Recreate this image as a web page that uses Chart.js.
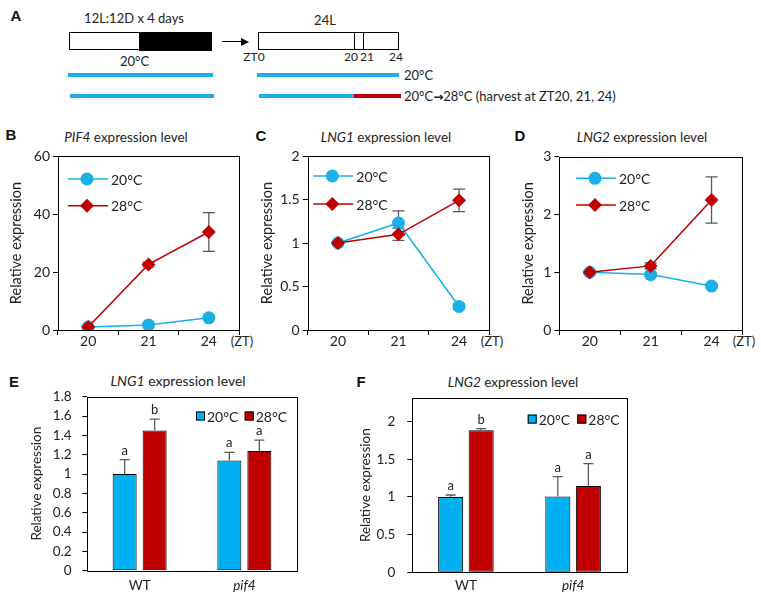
<!DOCTYPE html>
<html><head><meta charset="utf-8">
<script src="https://cdn.jsdelivr.net/npm/chart.js@4"></script>
<style>
body{margin:0;background:#fff;width:761px;height:593px;overflow:hidden;position:relative;font-family:Lato,'Open Sans',sans-serif;color:#222}
canvas{position:absolute}
.c{position:absolute;transform:translate(-50%,-50%);line-height:1;white-space:nowrap}
.l{position:absolute;transform:translateY(-50%);line-height:1;white-space:nowrap}
.pl{position:absolute;transform:translate(-50%,-50%);line-height:1;font-family:'Liberation Sans',Arial,sans-serif;font-weight:bold;font-size:15px;color:#111}
.r{position:absolute}
</style></head><body>

<!-- Panel A schematic -->
<div class="pl" style="left:16px;top:15px">A</div>
<div class="c" style="left:134px;top:18px;font-size:13px">12L:12D x 4 days</div>
<div class="r" style="left:69px;top:32px;width:141px;height:16px;border:1.3px solid #000;background:#fff"></div>
<div class="r" style="left:139px;top:32px;width:72.5px;height:18.6px;background:#000"></div>
<div class="c" style="left:134.5px;top:61px;font-size:13px">20°C</div>
<div class="r" style="left:68px;top:72.5px;width:145px;height:4px;background:#1AAFE6"></div>
<div class="r" style="left:70px;top:93.5px;width:144px;height:4px;background:#1AAFE6"></div>
<div class="r" style="left:222px;top:41px;width:20px;height:1.3px;background:#000"></div>
<div class="r" style="left:241px;top:37.5px;width:0;height:0;border-top:4px solid transparent;border-bottom:4px solid transparent;border-left:8px solid #000"></div>
<div class="c" style="left:325px;top:20px;font-size:13px">24L</div>
<div class="r" style="left:258px;top:32px;width:139px;height:16px;border:1.3px solid #000"></div>
<div class="r" style="left:353.5px;top:32px;width:1.3px;height:18px;background:#000"></div>
<div class="r" style="left:363.2px;top:32px;width:1.3px;height:18px;background:#000"></div>
<div class="c" style="left:254px;top:57px;font-size:12px">ZT0</div>
<div class="c" style="left:351px;top:57px;font-size:12px">20</div>
<div class="c" style="left:367px;top:57px;font-size:12px">21</div>
<div class="c" style="left:396px;top:57px;font-size:12px">24</div>
<div class="r" style="left:257.3px;top:72.5px;width:142px;height:4px;background:#1AAFE6"></div>
<div class="r" style="left:259px;top:93.5px;width:94.7px;height:4px;background:#1AAFE6"></div>
<div class="r" style="left:353.7px;top:93.5px;width:47px;height:4px;background:#C00000"></div>
<div class="l" style="left:404px;top:74.5px;font-size:13px">20°C</div>
<div class="l" style="left:404px;top:95.5px;font-size:13px">20°C<b style="font-family:'DejaVu Sans';font-size:12px">→</b>28°C (harvest at ZT20, 21, 24)</div>

<!-- Panel letters -->
<div class="pl" style="left:11px;top:134px">B</div>
<div class="pl" style="left:261px;top:135px">C</div>
<div class="pl" style="left:520px;top:135px">D</div>
<div class="pl" style="left:14px;top:381px">E</div>
<div class="pl" style="left:361px;top:381px">F</div>

<!-- Titles -->
<div class="c" style="left:126px;top:138px;font-size:13.5px"><i>PIF4</i> expression level</div>
<div class="c" style="left:386px;top:138px;font-size:13.5px"><i>LNG1</i> expression level</div>
<div class="c" style="left:642px;top:138px;font-size:13.5px"><i>LNG2</i> expression level</div>
<div class="c" style="left:178px;top:381px;font-size:14px"><i>LNG1</i> expression level</div>
<div class="c" style="left:513px;top:382.5px;font-size:13.5px"><i>LNG2</i> expression level</div>

<div class="c" style="left:242px;top:341px;font-size:13px">(ZT)</div>
<div class="c" style="left:492px;top:341px;font-size:13px">(ZT)</div>
<div class="c" style="left:744px;top:341px;font-size:13px">(ZT)</div>

<canvas id="cB"></canvas>
<canvas id="cC"></canvas>
<canvas id="cD"></canvas>
<canvas id="cE"></canvas>
<canvas id="cF"></canvas>

<script>
// ---------- DATA ----------
const timeCats = ['20', '21', '24'];

const pif4Ticks = [0, 20, 40, 60];
const pif4TickLabels = ['0', '20', '40', '60'];
const pif4_20C = [1.0, 1.7, 4.2];
const pif4_20C_err = [0.2, 0.3, 0.5];
const pif4_28C = [1.0, 22.6, 33.8];
const pif4_28C_err = [0.2, 0.8, 6.7];

const lng1Ticks = [0, 0.5, 1, 1.5, 2];
const lng1TickLabels = ['0', '0.5', '1', '1.5', '2'];
const lng1_20C = [1.0, 1.23, 0.27];
const lng1_20C_err = [0.02, 0.14, 0.03];
const lng1_28C = [1.0, 1.10, 1.49];
const lng1_28C_err = [0.02, 0.07, 0.13];

const lng2Ticks = [0, 1, 2, 3];
const lng2TickLabels = ['0', '1', '2', '3'];
const lng2_20C = [1.0, 0.96, 0.76];
const lng2_20C_err = [0.02, 0.03, 0.03];
const lng2_28C = [1.0, 1.11, 2.25];
const lng2_28C_err = [0.02, 0.05, 0.40];

const genotypes = ['WT', 'pif4'];

const lng1BarTicks = [0, 0.2, 0.4, 0.6, 0.8, 1, 1.2, 1.4, 1.6, 1.8];
const lng1BarTickLabels = ['0', '0.2', '0.4', '0.6', '0.8', '1', '1.2', '1.4', '1.6', '1.8'];
const lng1Bar_20C = [1.00, 1.14];
const lng1Bar_20C_err = [0.15, 0.085];
const lng1Bar_28C = [1.45, 1.237];
const lng1Bar_28C_err = [0.117, 0.113];
const lng1Bar_20C_sig = ['a', 'a'];
const lng1Bar_28C_sig = ['b', 'a'];

const lng2BarTicks = [0, 0.5, 1, 1.5, 2];
const lng2BarTickLabels = ['0', '0.5', '1', '1.5', '2'];
const lng2Bar_20C = [1.00, 1.005];
const lng2Bar_20C_err = [0.025, 0.265];
const lng2Bar_28C = [1.885, 1.145];
const lng2Bar_28C_err = [0.02, 0.295];
const lng2Bar_20C_sig = ['a', 'a'];
const lng2Bar_28C_sig = ['b', 'a'];

const seriesNames = ['20°C', '28°C'];

// ---------- STYLE ----------
const BLUE = '#19B0E8', RED = '#C00000', BARBLUE = '#00B0F0', ERR = '#5A5A5A', TXT = '#222';
const FONT = "Lato, 'Open Sans', sans-serif";
Chart.defaults.font.family = FONT;
Chart.defaults.color = TXT;
Chart.defaults.animation = false;

function setupCanvas(id, b) {
  const c = document.getElementById(id);
  c.style.left = b.left + 'px'; c.style.top = b.top + 'px';
  c.width = b.w; c.height = b.h;
  c.style.width = b.w + 'px'; c.style.height = b.h + 'px';
  return c;
}

function frameLine(ctx, a) {
  ctx.save();
  ctx.strokeStyle = '#000'; ctx.lineWidth = 1;
  ctx.strokeRect(Math.round(a.left) + 0.5, Math.round(a.top) + 0.5,
    Math.round(a.right) - Math.round(a.left), Math.round(a.bottom) - Math.round(a.top));
  ctx.restore();
}

function diamond(ctx, x, y, r) {
  ctx.beginPath(); ctx.moveTo(x, y - r); ctx.lineTo(x + r, y); ctx.lineTo(x, y + r); ctx.lineTo(x - r, y); ctx.closePath(); ctx.fill();
}

function makeLine(cfg) {
  const canvas = setupCanvas(cfg.id, cfg.box);
  const errs = [cfg.e20, cfg.e28];
  const plugin = {
    id: 'deco' + cfg.id,
    beforeDatasetsDraw(chart) {
      const ctx = chart.ctx, a = chart.chartArea, ys = chart.scales.y;
      frameLine(ctx, a);
      ctx.save(); ctx.strokeStyle = ERR; ctx.lineWidth = 1.3;
      [0, 1].forEach(di => {
        const meta = chart.getDatasetMeta(di);
        const vals = chart.data.datasets[di].data;
        meta.data.forEach((pt, j) => {
          const e = errs[di][j]; if (!e) return;
          const x = pt.x, yt = ys.getPixelForValue(vals[j] + e), yb = ys.getPixelForValue(vals[j] - e);
          ctx.beginPath(); ctx.moveTo(x, yt); ctx.lineTo(x, yb);
          ctx.moveTo(x - 6, yt); ctx.lineTo(x + 6, yt);
          ctx.moveTo(x - 6, yb); ctx.lineTo(x + 6, yb); ctx.stroke();
        });
      });
      ctx.restore();
    },
    afterDatasetsDraw(chart) {
      const ctx = chart.ctx, a = chart.chartArea;
      const x0 = a.left + cfg.leg.dx;
      [[cfg.leg.dy1, BLUE, 'c', seriesNames[0]], [cfg.leg.dy2, RED, 'd', seriesNames[1]]].forEach(([dy, col, m, txt]) => {
        const y = a.top + dy;
        ctx.save();
        ctx.strokeStyle = col; ctx.lineWidth = 1.5;
        ctx.beginPath(); ctx.moveTo(x0, y); ctx.lineTo(x0 + 40, y); ctx.stroke();
        ctx.fillStyle = col;
        if (m === 'c') { ctx.beginPath(); ctx.arc(x0 + 19, y, 6.5, 0, Math.PI * 2); ctx.fill(); }
        else diamond(ctx, x0 + 19, y, 7);
        ctx.fillStyle = TXT; ctx.font = '14px ' + FONT; ctx.textBaseline = 'middle'; ctx.textAlign = 'left';
        ctx.fillText(txt, x0 + 43, y + 1);
        ctx.restore();
      });
    }
  };
  return new Chart(canvas, {
    type: 'line',
    data: {
      labels: timeCats,
      datasets: [
        { label: seriesNames[0], data: cfg.d20, borderColor: BLUE, backgroundColor: BLUE, borderWidth: 1.5,
          pointStyle: 'circle', pointRadius: 6.5, pointBorderWidth: 0, order: 1 },
        { label: seriesNames[1], data: cfg.d28, borderColor: RED, backgroundColor: RED, borderWidth: 1.5,
          pointStyle: 'rectRot', pointRadius: 7, pointBorderWidth: 0, order: 0 }
      ]
    },
    options: {
      responsive: false, animation: false,
      layout: { padding: { left: 0, right: cfg.pad.r, top: cfg.pad.t, bottom: 0 } },
      plugins: { legend: { display: false }, tooltip: { enabled: false } },
      scales: {
        x: {
          type: 'category', offset: true,
          grid: { offset: true, drawOnChartArea: false, drawTicks: true, tickLength: 5, color: '#000' },
          border: { display: false },
          ticks: { font: { size: 14, lineHeight: 1 }, padding: -1, color: TXT, maxRotation: 0 },
          afterFit: s => { s.height = cfg.xH; }
        },
        y: {
          min: 0, max: cfg.ticks[cfg.ticks.length - 1],
          grid: { drawOnChartArea: false, drawTicks: true, tickLength: 5, color: '#000' },
          border: { display: false },
          ticks: { font: { size: 14 }, padding: 3, color: TXT, callback: (v, i) => cfg.tickLabels[i] },
          afterBuildTicks: s => { s.ticks = cfg.ticks.map(v => ({ value: v })); },
          afterFit: s => { s.width = cfg.yW; },
          title: { display: true, text: 'Relative expression', font: { size: 14.5 }, color: TXT, padding: { top: cfg.tPad, bottom: 0 } }
        }
      }
    },
    plugins: [plugin]
  });
}

function makeBar(cfg) {
  const canvas = setupCanvas(cfg.id, cfg.box);
  const errs = [cfg.e20, cfg.e28];
  const sigs = [cfg.s20, cfg.s28];
  const plugin = {
    id: 'deco' + cfg.id,
    afterDatasetsDraw(chart) {
      const ctx = chart.ctx, a = chart.chartArea, ys = chart.scales.y;
      frameLine(ctx, a);
      ctx.save();
      [0, 1].forEach(di => {
        const meta = chart.getDatasetMeta(di);
        const vals = chart.data.datasets[di].data;
        meta.data.forEach((bar, j) => {
          const x = bar.x, yt = ys.getPixelForValue(vals[j]), yc = ys.getPixelForValue(vals[j] + errs[di][j]);
          ctx.strokeStyle = ERR; ctx.lineWidth = 1.3;
          ctx.beginPath(); ctx.moveTo(x, yt); ctx.lineTo(x, yc); ctx.moveTo(x - 5, yc); ctx.lineTo(x + 5, yc); ctx.stroke();
          ctx.fillStyle = TXT; ctx.font = cfg.sigFont + 'px ' + FONT; ctx.textAlign = 'center'; ctx.textBaseline = 'alphabetic';
          ctx.fillText(sigs[di][j], x, yc - 5);
        });
      });
      // legend
      const y = a.top + cfg.leg.dy;
      [[cfg.leg.dx1, BARBLUE, seriesNames[0]], [cfg.leg.dx2, RED, seriesNames[1]]].forEach(([dx, col, txt]) => {
        const x = a.left + dx;
        ctx.fillStyle = col; ctx.fillRect(x, y - 4.5, 9, 9);
        ctx.strokeStyle = '#000'; ctx.lineWidth = 1; ctx.strokeRect(x + 0.5, y - 4, 8, 8);
        ctx.fillStyle = TXT; ctx.font = cfg.legFont + 'px ' + FONT; ctx.textAlign = 'left'; ctx.textBaseline = 'middle';
        ctx.fillText(txt, x + 11, y + 1);
      });
      ctx.restore();
    }
  };
  return new Chart(canvas, {
    type: 'bar',
    data: {
      labels: genotypes,
      datasets: [
        { label: seriesNames[0], data: cfg.d20, backgroundColor: BARBLUE, borderColor: '#000', borderWidth: 1, borderSkipped: false,
          categoryPercentage: cfg.cp, barPercentage: cfg.bp },
        { label: seriesNames[1], data: cfg.d28, backgroundColor: RED, borderColor: '#000', borderWidth: 1, borderSkipped: false,
          categoryPercentage: cfg.cp, barPercentage: cfg.bp }
      ]
    },
    options: {
      responsive: false, animation: false,
      layout: { padding: { left: 0, right: cfg.pad.r, top: cfg.pad.t, bottom: 0 } },
      plugins: { legend: { display: false }, tooltip: { enabled: false } },
      scales: {
        x: {
          grid: { display: false, drawTicks: false },
          border: { display: false },
          ticks: {
            font: ctx => ({ size: cfg.tickFont, lineHeight: 1, style: ctx.index === 1 ? 'italic' : 'normal' }),
            padding: cfg.xPad, color: TXT, maxRotation: 0
          },
          afterFit: s => { s.height = cfg.xH; }
        },
        y: {
          min: 0, max: cfg.yMax,
          grid: { drawOnChartArea: false, drawTicks: true, tickLength: 5, color: '#000' },
          border: { display: false },
          ticks: { font: { size: cfg.tickFont }, padding: cfg.yPad, color: TXT, callback: (v, i) => cfg.tickLabels[i] },
          afterBuildTicks: s => { s.ticks = cfg.ticks.map(v => ({ value: v })); },
          afterFit: s => { s.width = cfg.yW; },
          title: { display: true, text: 'Relative expression', font: { size: 13.5 }, color: TXT, padding: { top: cfg.tPad, bottom: 0 } }
        }
      }
    },
    plugins: [plugin]
  });
}

makeLine({ id: 'cB', box: { left: 0, top: 142, w: 250, h: 215 }, yW: 58, xH: 27, pad: { r: 11, t: 14 }, tPad: 8,
  ticks: pif4Ticks, tickLabels: pif4TickLabels, d20: pif4_20C, e20: pif4_20C_err, d28: pif4_28C, e28: pif4_28C_err,
  leg: { dx: 10, dy1: 23, dy2: 49.7 } });
makeLine({ id: 'cC', box: { left: 250, top: 142, w: 250, h: 215 }, yW: 57.7, xH: 27, pad: { r: 10.7, t: 14 }, tPad: 8.6,
  ticks: lng1Ticks, tickLabels: lng1TickLabels, d20: lng1_20C, e20: lng1_20C_err, d28: lng1_28C, e28: lng1_28C_err,
  leg: { dx: 5.6, dy1: 20, dy2: 48 } });
makeLine({ id: 'cD', box: { left: 505, top: 142, w: 256, h: 215 }, yW: 54.3, xH: 27, pad: { r: 19, t: 14.7 }, tPad: 15.1,
  ticks: lng2Ticks, tickLabels: lng2TickLabels, d20: lng2_20C, e20: lng2_20C_err, d28: lng2_28C, e28: lng2_28C_err,
  leg: { dx: 16.7, dy1: 21.6, dy2: 48.3 } });

makeBar({ id: 'cE', box: { left: 20, top: 378, w: 290, h: 215 }, yW: 67.3, xH: 22.3, pad: { r: 13.3, t: 12.7 }, tPad: 8.9,
  yMax: 1.8, ticks: lng1BarTicks, tickLabels: lng1BarTickLabels, tickFont: 13.5, yPad: 10.6, xPad: 7.8,
  d20: lng1Bar_20C, e20: lng1Bar_20C_err, d28: lng1Bar_28C, e28: lng1Bar_28C_err, s20: lng1Bar_20C_sig, s28: lng1Bar_28C_sig,
  cp: 0.573, bp: 0.8, sigFont: 13, legFont: 14, leg: { dx1: 108.7, dx2: 157.4, dy: 19.3 } });
makeBar({ id: 'cF', box: { left: 350, top: 378, w: 290, h: 215 }, yW: 62.3, xH: 20.7, pad: { r: 13.3, t: 14.3 }, tPad: 7.2,
  yMax: 2.31, ticks: lng2BarTicks, tickLabels: lng2BarTickLabels, tickFont: 13.5, yPad: 12, xPad: 6.2,
  d20: lng2Bar_20C, e20: lng2Bar_20C_err, d28: lng2Bar_28C, e28: lng2Bar_28C_err, s20: lng2Bar_20C_sig, s28: lng2Bar_28C_sig,
  cp: 0.57, bp: 0.82, sigFont: 13, legFont: 14, leg: { dx1: 115.4, dx2: 165, dy: 21 } });
</script>
</body></html>
